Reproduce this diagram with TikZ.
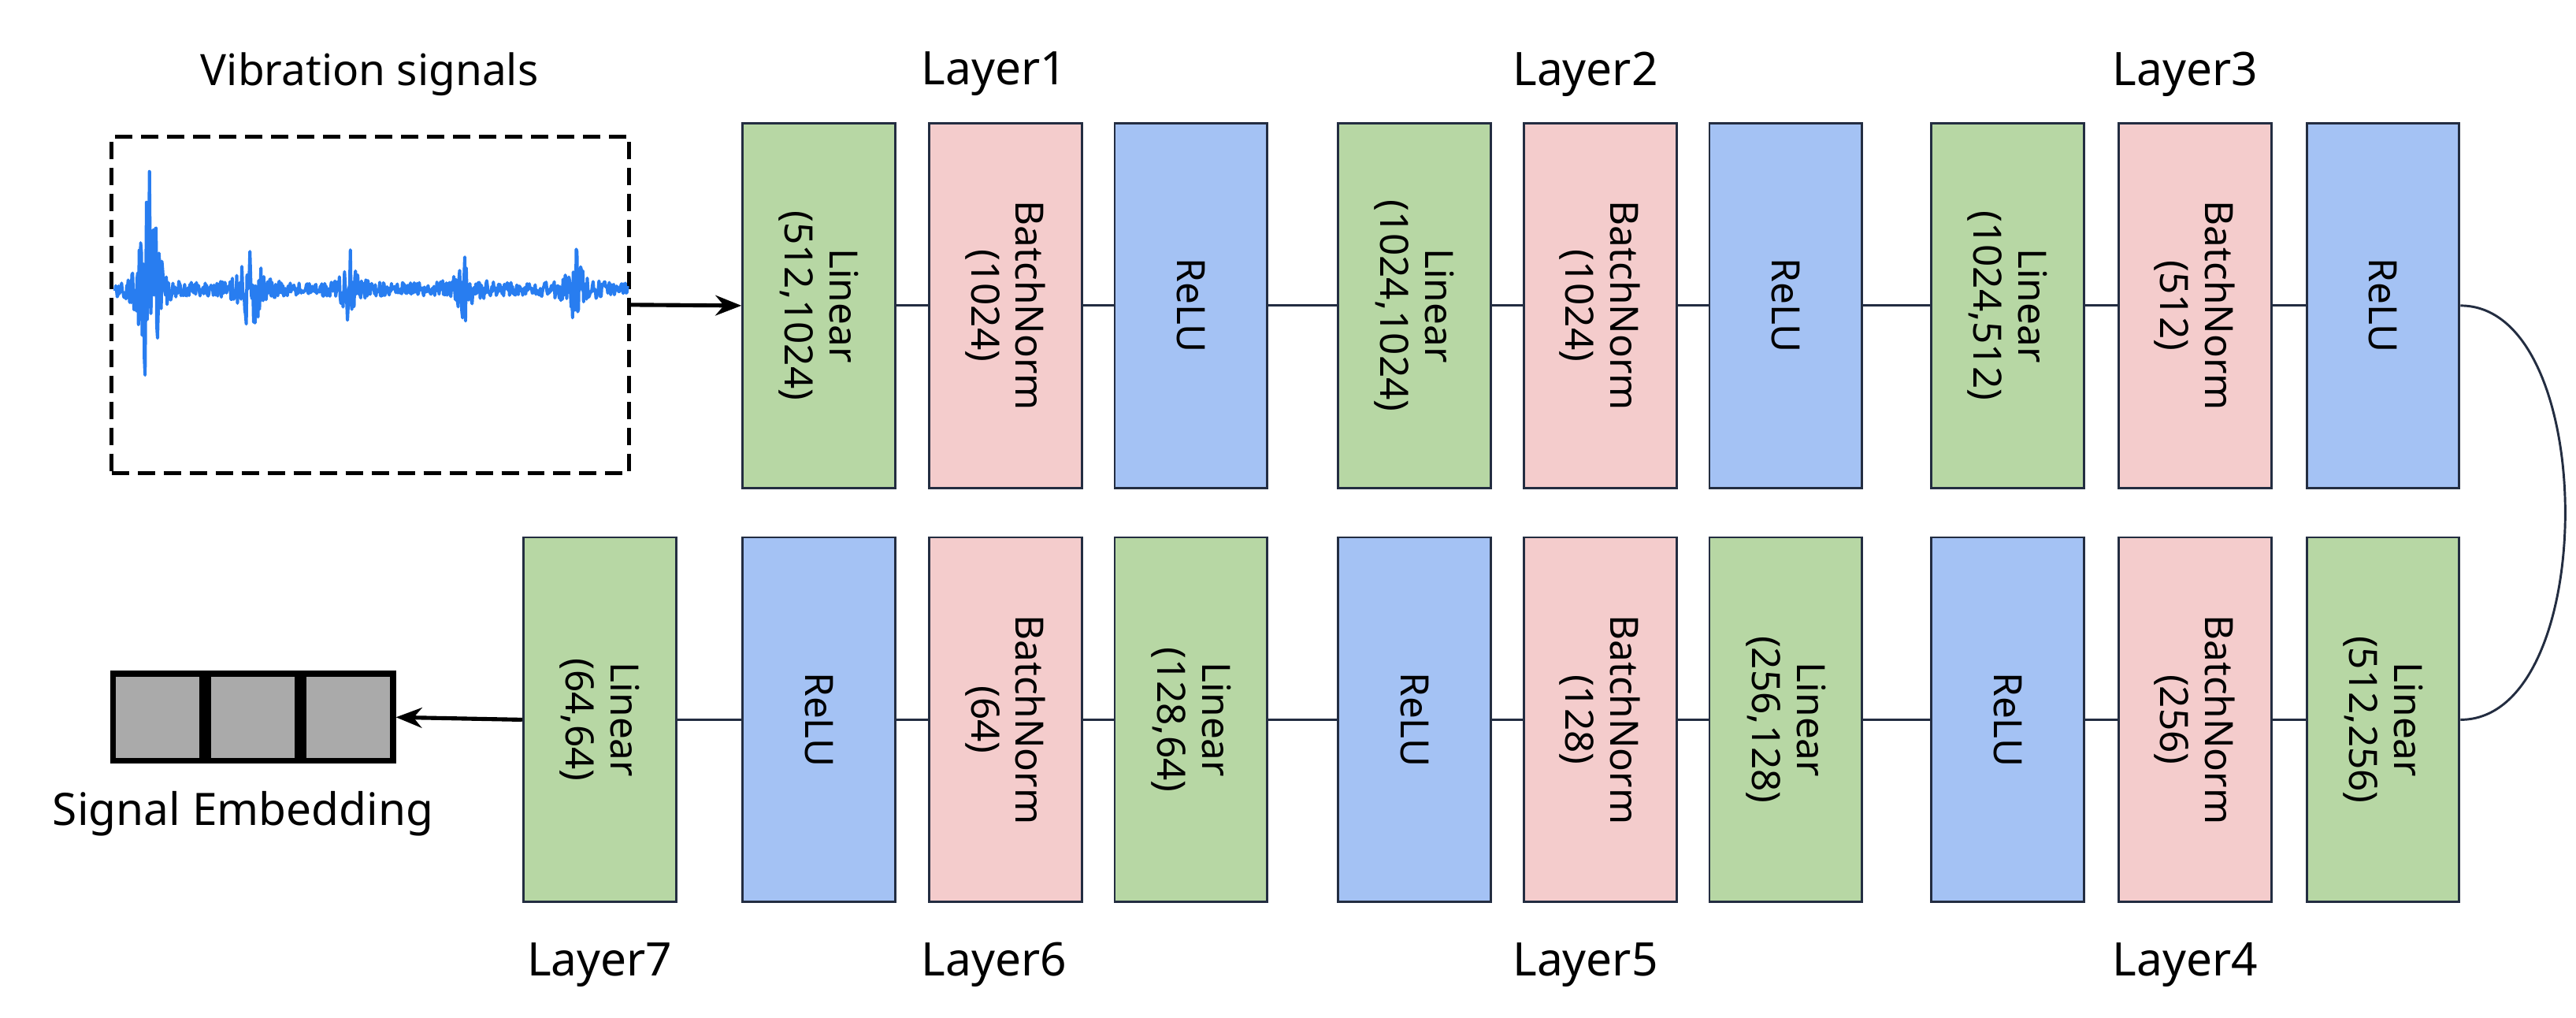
\documentclass[tikz,border=0pt]{standalone}
\usepackage{fontspec}
\setmainfont{Noto Sans}
\usetikzlibrary{arrows.meta, positioning, calc}
\definecolor{lingreen}{RGB}{183,215,164}
\definecolor{bnpink}{RGB}{244,204,204}
\definecolor{relublue}{RGB}{164,194,244}
\definecolor{edgecol}{RGB}{35,45,65}
\definecolor{sigblue}{RGB}{40,125,240}
\definecolor{cellgray}{RGB}{170,170,170}

\begin{document}
\begin{tikzpicture}[
    x=0.02cm, y=-0.02cm,
    box/.style={rectangle, draw=edgecol, line width=0.8pt, minimum width=1.86cm, minimum height=4.44cm, align=center, inner sep=0pt},
    lin/.style={box, fill=lingreen},
    bn/.style={box, fill=bnpink},
    relu/.style={box, fill=relublue},
    txt/.style={rotate=-90, font=\fontsize{13.5}{15.5}\selectfont, align=center},
    lbl/.style={font=\fontsize{16}{19}\selectfont},
    link/.style={draw=edgecol, line width=0.8pt},
    arrow/.style={-{Stealth[length=9pt,width=7pt]}, line width=1.4pt}
]
\useasboundingbox (0,0) rectangle (1568,619.5);

% Top row
\node[lin]  (l1a) at (498.5,186) {}; \node[txt] at (l1a) {Linear\\(512,1024)};
\node[bn]   (l1b) at (612,186)   {}; \node[txt] at (l1b) {BatchNorm\\(1024)};
\node[relu] (l1c) at (725,186)   {}; \node[txt] at (l1c) {ReLU};
\node[lin]  (l2a) at (861,186)   {}; \node[txt] at (l2a) {Linear\\(1024,1024)};
\node[bn]   (l2b) at (974,186)   {}; \node[txt] at (l2b) {BatchNorm\\(1024)};
\node[relu] (l2c) at (1087,186)  {}; \node[txt] at (l2c) {ReLU};
\node[lin]  (l3a) at (1222,186)  {}; \node[txt] at (l3a) {Linear\\(1024,512)};
\node[bn]   (l3b) at (1336,186)  {}; \node[txt] at (l3b) {BatchNorm\\(512)};
\node[relu] (l3c) at (1450.5,186){}; \node[txt] at (l3c) {ReLU};

% Bottom row
\node[lin]  (l4a) at (1450.5,438){}; \node[txt] at (l4a) {Linear\\(512,256)};
\node[bn]   (l4b) at (1336,438)  {}; \node[txt] at (l4b) {BatchNorm\\(256)};
\node[relu] (l4c) at (1222,438)  {}; \node[txt] at (l4c) {ReLU};
\node[lin]  (l5a) at (1087,438)  {}; \node[txt] at (l5a) {Linear\\(256,128)};
\node[bn]   (l5b) at (974,438)   {}; \node[txt] at (l5b) {BatchNorm\\(128)};
\node[relu] (l5c) at (861,438)   {}; \node[txt] at (l5c) {ReLU};
\node[lin]  (l6a) at (725,438)   {}; \node[txt] at (l6a) {Linear\\(128,64)};
\node[bn]   (l6b) at (612,438)   {}; \node[txt] at (l6b) {BatchNorm\\(64)};
\node[relu] (l6c) at (498.5,438) {}; \node[txt] at (l6c) {ReLU};
\node[lin]  (l7a) at (365,438)   {}; \node[txt] at (l7a) {Linear\\(64,64)};

% Layer labels
\node[lbl] at (605,45) {Layer1};
\node[lbl] at (965,45) {Layer2};
\node[lbl] at (1330,45) {Layer3};
\node[lbl] at (1330,587) {Layer4};
\node[lbl] at (965,587) {Layer5};
\node[lbl] at (605,587) {Layer6};
\node[lbl] at (365,587) {Layer7};

% Links
\foreach \a/\b in {l1a/l1b, l1b/l1c, l1c/l2a, l2a/l2b, l2b/l2c, l2c/l3a, l3a/l3b, l3b/l3c,
                   l4a/l4b, l4b/l4c, l4c/l5a, l5a/l5b, l5b/l5c, l5c/l6a, l6a/l6b, l6b/l6c, l6c/l7a}
    \draw[link] (\a) -- (\b);
\draw[link] (l3c.east) .. controls +(85,0) and +(85,0) .. (l4a.east);

% Input signal
\node[draw, dash pattern=on 6pt off 3pt, line width=1.3pt, minimum width=6.3cm, minimum height=4.1cm] (sig) at (225.5,185.5) {};
\node[font=\fontsize{15}{18}\selectfont] at (225,45) {Vibration signals};
\pgfmathsetseed{7}
\draw[sigblue, line width=1.1pt, line join=round] plot[samples=700, domain=70:382, variable=\t]
  (\t, {176 + (4 + 95*exp(-abs(\t-91)/4) + 32*exp(-abs(\t-153)/5) + 22*exp(-abs(\t-213)/4) + 18*exp(-abs(\t-283)/5) + 24*exp(-abs(\t-350)/5))*rand});
\draw[arrow] (sig.east) -- (l1a.west);

% Output embedding
\node[draw, line width=2pt, fill=cellgray, minimum width=1.09cm, minimum height=1.06cm] (e1) at (96,436.5) {};
\node[draw, line width=2pt, fill=cellgray, minimum width=1.09cm, minimum height=1.06cm, right=0pt of e1] (e2) {};
\node[draw, line width=2pt, fill=cellgray, minimum width=1.09cm, minimum height=1.06cm, right=0pt of e2] (e3) {};
\node[font=\fontsize{15.5}{18}\selectfont] at (148,495) {Signal Embedding};
\draw[arrow] (l7a.west) -- (e3.east);

\end{tikzpicture}
\end{document}
